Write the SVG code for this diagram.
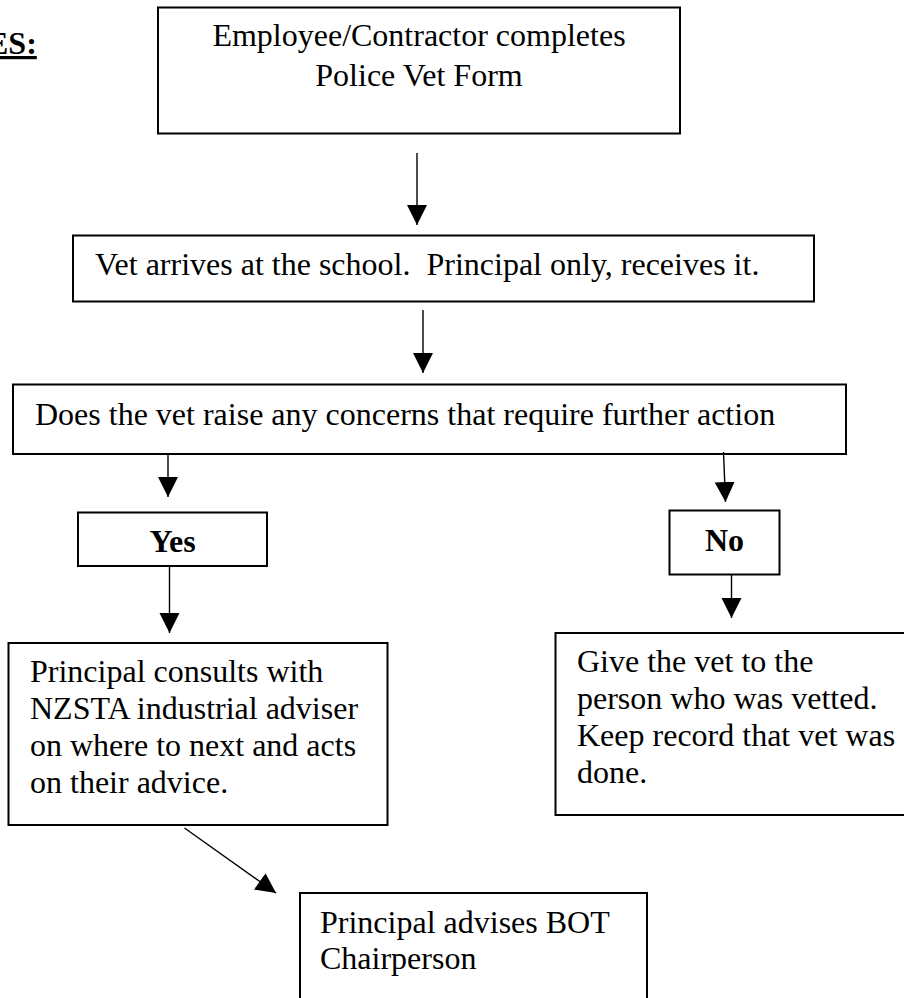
<svg xmlns="http://www.w3.org/2000/svg" width="904" height="998" viewBox="0 0 904 998">
<style>
  .box { fill: #ffffff; stroke: #000000; stroke-width: 2; }
  .t { font-family: "Liberation Serif", "Times New Roman", serif; font-size: 32px; fill: #000000; }
  .b { font-weight: bold; }
  .conn line { stroke: #000000; stroke-width: 1.4; marker-end: url(#ah); }
</style>
<defs>
  <marker id="ah" markerUnits="userSpaceOnUse" markerWidth="21" markerHeight="21" refX="20" refY="10" orient="auto">
    <path d="M0,0 L20,10 L0,20 z" fill="#000000"/>
  </marker>
</defs>
<rect width="904" height="998" fill="#ffffff"/>
<g id="heading">
  <text class="t b" x="-13" y="54" text-decoration="underline">ES:</text>
</g>
<g id="n1">
  <rect class="box" x="158" y="7.5" width="522" height="126"/>
  <text class="t" x="419" y="46" text-anchor="middle">Employee/Contractor completes</text>
  <text class="t" x="419" y="86" text-anchor="middle">Police Vet Form</text>
</g>
<g id="n2">
  <rect class="box" x="73" y="235.5" width="741" height="66"/>
  <text class="t" x="95" y="275" xml:space="preserve">Vet arrives at the school.  Principal only, receives it.</text>
</g>
<g id="n3">
  <rect class="box" x="13" y="384.5" width="833" height="69.5"/>
  <text class="t" x="35" y="425">Does the vet raise any concerns that require further action</text>
</g>
<g id="n4">
  <rect class="box" x="78" y="512.5" width="189" height="53.5"/>
  <text class="t b" x="172.5" y="552" text-anchor="middle">Yes</text>
</g>
<g id="n5">
  <rect class="box" x="669.5" y="510.5" width="110" height="64"/>
  <text class="t b" x="724.5" y="551" text-anchor="middle">No</text>
</g>
<g id="n6">
  <rect class="box" x="8.5" y="643" width="379" height="182"/>
  <text class="t" x="30" y="682">Principal consults with</text>
  <text class="t" x="30" y="719">NZSTA industrial adviser</text>
  <text class="t" x="30" y="756">on where to next and acts</text>
  <text class="t" x="30" y="793">on their advice.</text>
</g>
<g id="n7">
  <rect class="box" x="555.5" y="633" width="360" height="182"/>
  <text class="t" x="577" y="672">Give the vet to the</text>
  <text class="t" x="577" y="709">person who was vetted.</text>
  <text class="t" x="577" y="746">Keep record that vet was</text>
  <text class="t" x="577" y="783">done.</text>
</g>
<g id="n8">
  <rect class="box" x="300" y="893" width="347" height="120"/>
  <text class="t" x="320" y="933">Principal advises BOT</text>
  <text class="t" x="320" y="969">Chairperson</text>
</g>
<g id="connectors" class="conn">
  <line x1="417" y1="153" x2="417" y2="225"/>
  <line x1="423" y1="310" x2="423" y2="373"/>
  <line x1="168" y1="454" x2="168" y2="497"/>
  <line x1="723.5" y1="452" x2="725.5" y2="502"/>
  <line x1="169.5" y1="566" x2="169.5" y2="633"/>
  <line x1="731.5" y1="574.5" x2="731.5" y2="618"/>
  <line x1="184.5" y1="828" x2="276" y2="893"/>
</g>
</svg>
